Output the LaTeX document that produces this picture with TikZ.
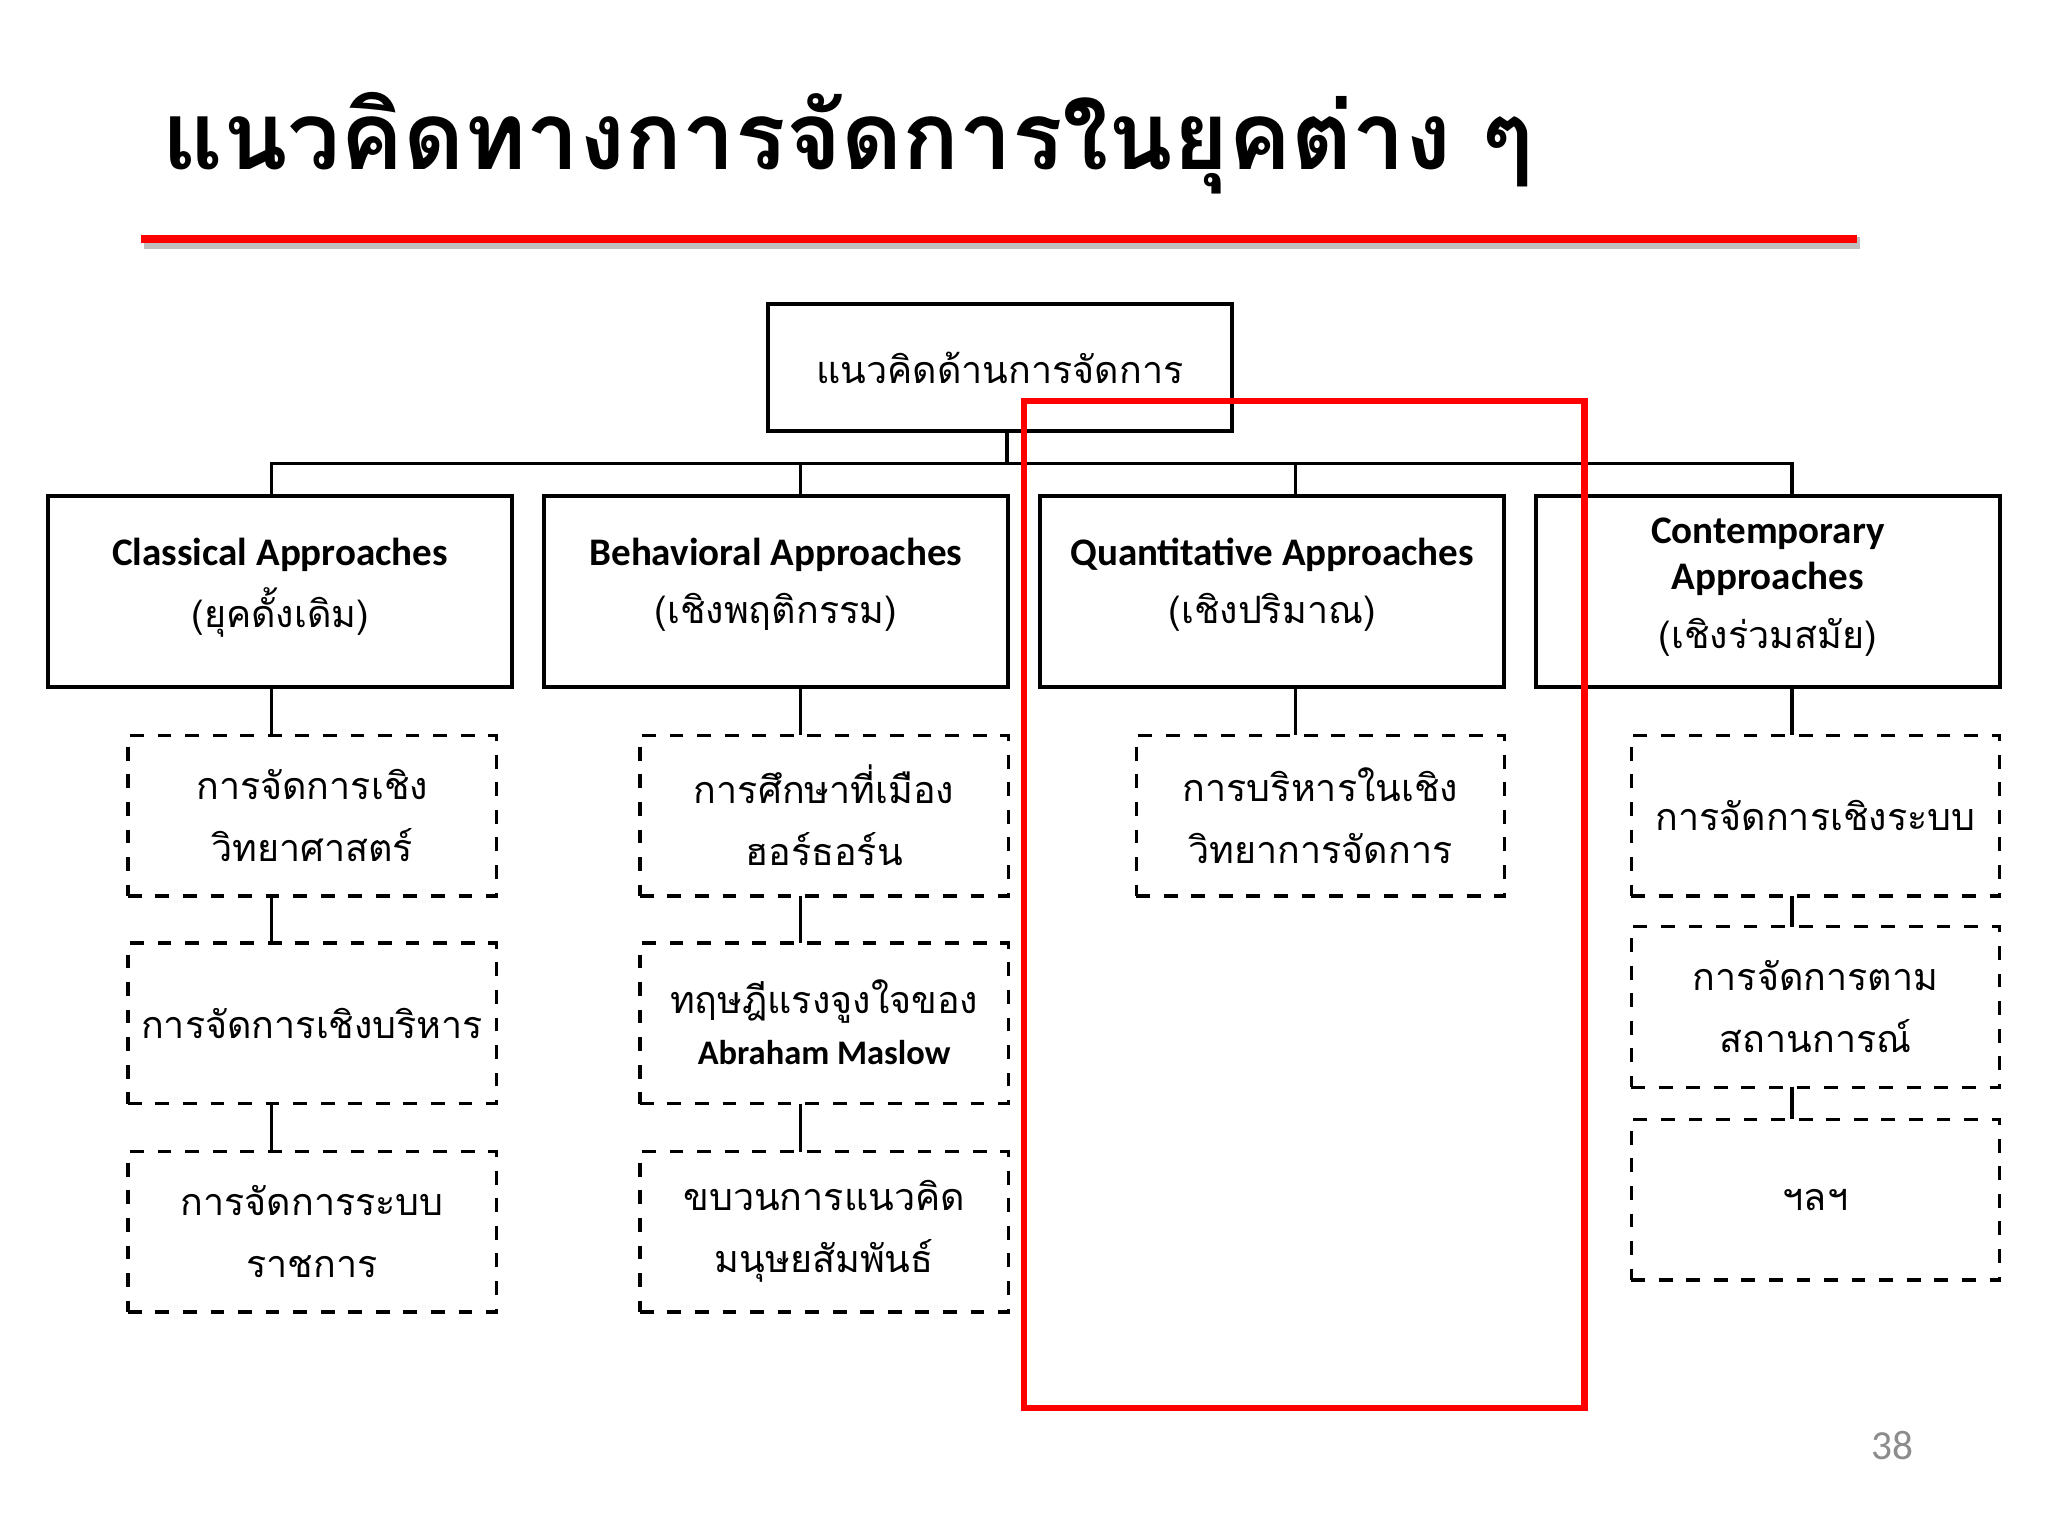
\documentclass[tikz,border=0pt]{standalone}
\usepackage{fontspec}
\setmainfont{Carlito}
\newfontfamily\thaif[Script=Thai]{Loma}
\begin{document}
\begin{tikzpicture}[x=0.01cm,y=-0.01cm,
 solidbox/.style={draw,line width=0.8pt,inner sep=0pt},
 dbox/.style={draw,dashed,line width=0.7pt,inner sep=0pt},
 lbl/.style={align=center,font=\fontsize{8.5}{13}\selectfont},
 tl/.style={align=center,font=\thaif\fontsize{8.2}{13.5}\selectfont},
 con/.style={line width=0.7pt}]
\useasboundingbox (0,0) rectangle (1568,1176);
\node[anchor=base west,font=\thaif\bfseries\fontsize{20.5}{24}\selectfont] (title) at (112,130) {แนวคิดทางการจัดการในยุคต่าง ๆ};
\draw[black!25,line width=2.5pt] (110,186) -- (1424,186);
\draw[red,line width=1.6pt] (108,183) coordinate (r1) -- (1422,183) coordinate (r2);
\node[text=black!45,font=\fontsize{9}{10}\selectfont] (pg) at (1449,1107) {38};
% top
\node[solidbox,minimum width=3.55cm,minimum height=0.97cm] (top) at (765.5,281.5) {};
\node[tl] at (top) {แนวคิดด้านการจัดการ};
% level1
\foreach \n/\x in {A/214.5,B/594,C/974,D/1353.5}
 \node[solidbox,minimum width=3.55cm,minimum height=1.46cm] (\n) at (\x,453) {};
\node[lbl,font=\bfseries\fontsize{8.5}{13}\selectfont] at (214.5,425) {Classical Approaches};
\node[tl] at (214.5,469) {(ยุคดั้งเดิม)};
\node[lbl,font=\bfseries\fontsize{8.5}{13}\selectfont] at (594,425) {Behavioral Approaches};
\node[tl] at (594,469) {(เชิงพฤติกรรม)};
\node[lbl,font=\bfseries\fontsize{8.5}{13}\selectfont] at (974,425) {Quantitative Approaches};
\node[tl] at (974,469) {(เชิงปริมาณ)};
\node[lbl,font=\bfseries\fontsize{8.5}{10}\selectfont] at (1353.5,426) {Contemporary\\Approaches};
\node[tl] at (1353.5,488) {(เชิงร่วมสมัย)};
% connectors top
\coordinate (h1) at (771,355);
\draw[con] (771,330) -- (h1);
\draw[con] (208,380) |- (h1) -| (1372,380);
\draw[con] (613,380) -- (613,355);
\draw[con] (992,380) -- (992,355);
% dashed boxes
\tikzset{dw/.style={dbox,minimum width=2.82cm,minimum height=1.23cm}}
\node[dw] (A1) at (239,624.5) {};
\node[dw] (A2) at (239,783.5) {};
\node[dw] (A3) at (239,943) {};
\node[dw] (B1) at (631,624.5) {};
\node[dw] (B2) at (631,783.5) {};
\node[dw] (B3) at (631,943) {};
\node[dw] (C1) at (1011,624.5) {};
\node[dw] (D1) at (1390,624.5) {};
\node[dw] (D2) at (1390,771) {};
\node[dw] (D3) at (1390,918.5) {};
\node[tl] at (A1) {การจัดการเชิง\\วิทยาศาสตร์};
\node[tl] at (A2) {การจัดการเชิงบริหาร};
\node[tl] at (A3) {การจัดการระบบ\\ราชการ};
\node[tl] at (B1) {การศึกษาที่เมือง\\ฮอร์ธอร์น};
\node[tl] at (631,767) {ทฤษฎีแรงจูงใจของ};
\node[lbl,font=\bfseries\fontsize{7.5}{9}\selectfont] at (631,806) {Abraham Maslow};
\node[tl] at (B3) {ขบวนการแนวคิด\\มนุษยสัมพันธ์};
\node[tl] at (C1) {การบริหารในเชิง\\วิทยาการจัดการ};
\node[tl] at (D1) {การจัดการเชิงระบบ};
\node[tl] at (D2) {การจัดการตาม\\สถานการณ์};
\node[tl] at (D3) {ฯลฯ};
% vertical connectors
\draw[con] (208,526) -- (208,563);
\draw[con] (208,686) -- (208,722);
\draw[con] (208,845) -- (208,882);
\draw[con] (613,526) -- (613,563);
\draw[con] (613,686) -- (613,722);
\draw[con] (613,845) -- (613,882);
\draw[con] (992,526) -- (992,563);
\draw[con] (1372,526) -- (1372,563);
\draw[con] (1372,686) -- (1372,710);
\draw[con] (1372,832) -- (1372,857);
% red highlight
\draw[red,line width=1.5pt] (784,307) rectangle (1213,1078);
\end{tikzpicture}
\end{document}
